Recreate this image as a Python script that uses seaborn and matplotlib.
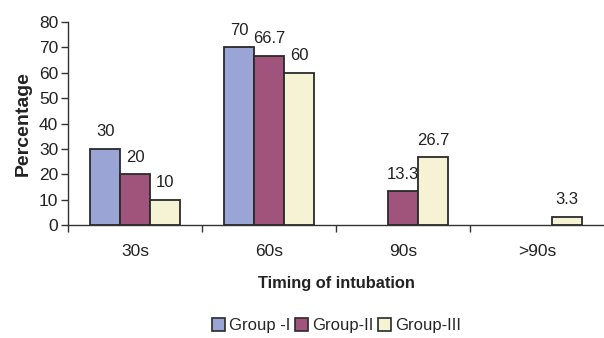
import pandas as pd
import matplotlib.pyplot as plt
import seaborn as sns
from matplotlib.patches import Patch

# datos
categorias = ["30s", "60s", "90s", ">90s"]
grupos = ["Group -I", "Group-II", "Group-III"]
grupo_1 = [30, 70, None, None]
grupo_2 = [20, 66.7, 13.3, None]
grupo_3 = [10, 60, 26.7, 3.3]
colores = ["#9AA5D6", "#A0547C", "#F5F3D3"]

sns.set_theme(style="white")
plt.rcParams["font.family"] = ["Liberation Sans", "DejaVu Sans"]

rows = []
for g, vals in zip(grupos, [grupo_1, grupo_2, grupo_3]):
    for c, v in zip(categorias, vals):
        rows.append({"timing": c, "grupo": g, "pct": v})
df = pd.DataFrame(rows)

fig = plt.figure(figsize=(6.04, 3.38), dpi=100)
ax = fig.add_axes([68 / 604, 113 / 338, 536 / 604, 203 / 338])

sns.barplot(data=df.dropna(), x="timing", y="pct", hue="grupo",
            order=categorias, hue_order=grupos, palette=colores,
            saturation=1, width=0.67, edgecolor="#2a2a2a", linewidth=1.3,
            ax=ax, legend=False, errorbar=None)

for cont in ax.containers:
    ax.bar_label(cont, labels=[f"{v:g}" for v in cont.datavalues],
                 padding=7, fontsize=12, color="#222222")

ax.set_xlim(-0.5, 3.5)
ax.set_ylim(0, 80)
ax.set_yticks(range(0, 81, 10))
ax.tick_params(axis="y", labelsize=12.5, length=5, width=1, color="#333333",
               left=True, pad=2, labelcolor="#222222")
ax.set_xticks([-0.5, 0.5, 1.5, 2.5], minor=True)
ax.tick_params(axis="x", which="major", length=0, labelsize=12.5, pad=14,
               labelcolor="#222222")
ax.tick_params(axis="x", which="minor", length=5, width=1, color="#333333",
               bottom=True)
ax.set_xlabel("Timing of intubation", fontsize=11.8, fontweight="bold",
              labelpad=12, color="#222222")
ax.set_ylabel("Percentage", fontsize=14, fontweight="bold",
              labelpad=5, color="#222222")

for s in ["top", "right"]:
    ax.spines[s].set_visible(False)
for s in ["left", "bottom"]:
    ax.spines[s].set_color("#333333")
    ax.spines[s].set_linewidth(1)

handles = [Patch(facecolor=c, edgecolor="#2a2a2a", linewidth=1.2)
           for c in colores]
fig.legend(handles, grupos, loc="lower center", bbox_to_anchor=(0.557, -0.03),
           ncol=3, frameon=False, fontsize=12, handlelength=0.8,
           handleheight=0.8, handletextpad=0.2, columnspacing=0.3)

plt.savefig("out.png", dpi=100)
plt.close()
